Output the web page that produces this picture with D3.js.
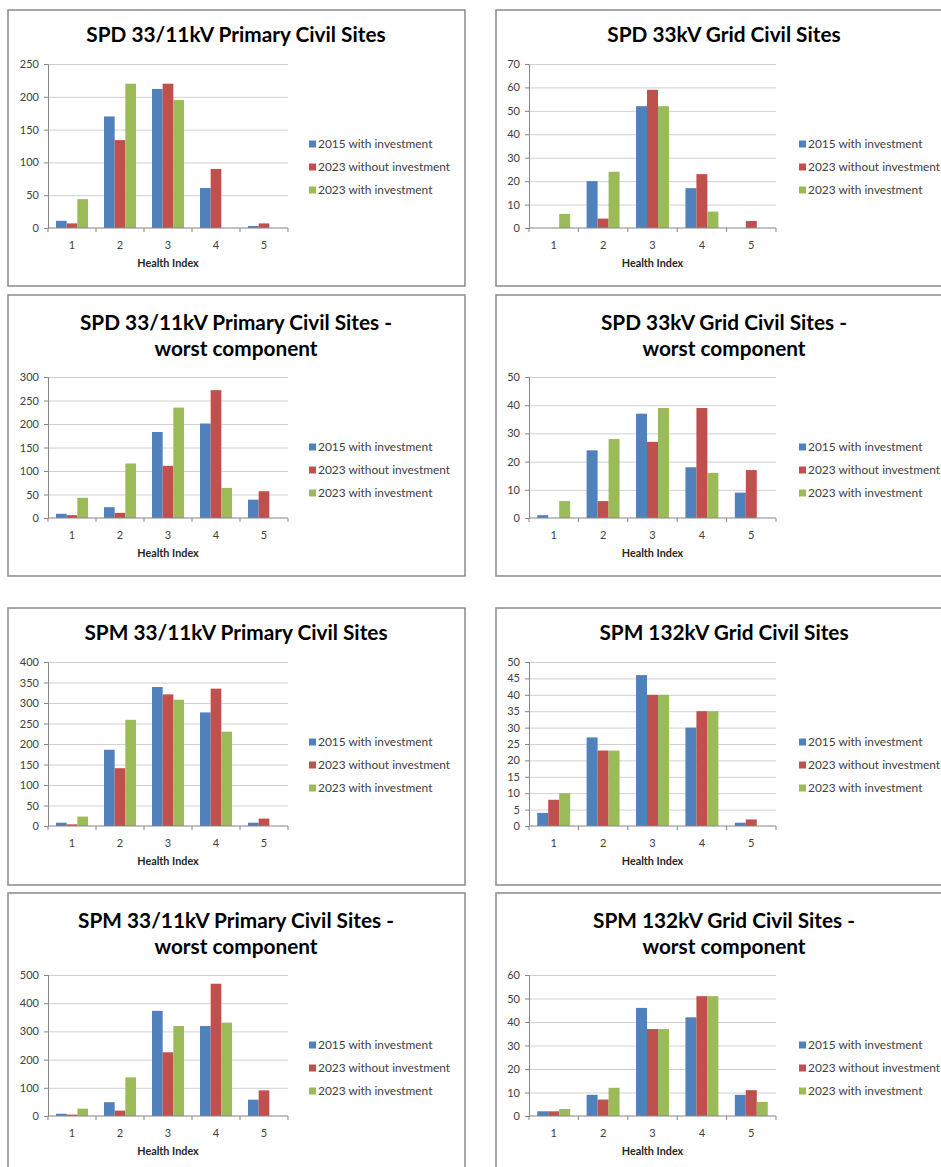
<!DOCTYPE html>
<html>
<head>
<meta charset="utf-8">
<script src="https://cdn.jsdelivr.net/npm/d3@7"></script>
<style>
  html, body { margin: 0; padding: 0; background: #fff; }
  svg { display: block; font-family: Lato, "Open Sans", sans-serif; }
</style>
</head>
<body>
<svg id="chart" width="941" height="1167"></svg>
<script>
// Health Index categories and the three scenarios shown in every chart
const categories = ["1", "2", "3", "4", "5"];
const seriesNames = ["2015 with investment", "2023 without investment", "2023 with investment"];

// SPD 33/11kV Primary Civil Sites
const spdPrimaryTitle = ["SPD 33/11kV Primary Civil Sites"];
const spdPrimaryValues = [[11, 170, 212, 61, 3], [7, 134, 220, 90, 7], [44, 220, 195, 0, 0]];
const spdPrimaryTicks = [0, 50, 100, 150, 200, 250];

// SPD 33kV Grid Civil Sites
const spdGridTitle = ["SPD 33kV Grid Civil Sites"];
const spdGridValues = [[0, 20, 52, 17, 0], [0, 4, 59, 23, 3], [6, 24, 52, 7, 0]];
const spdGridTicks = [0, 10, 20, 30, 40, 50, 60, 70];

// SPD 33/11kV Primary Civil Sites - worst component
const spdPrimaryWorstTitle = ["SPD 33/11kV Primary Civil Sites -", "worst component"];
const spdPrimaryWorstValues = [[9, 23, 183, 201, 39], [6, 11, 111, 272, 57], [43, 116, 235, 64, 0]];
const spdPrimaryWorstTicks = [0, 50, 100, 150, 200, 250, 300];

// SPD 33kV Grid Civil Sites - worst component
const spdGridWorstTitle = ["SPD 33kV Grid Civil Sites -", "worst component"];
const spdGridWorstValues = [[1, 24, 37, 18, 9], [0, 6, 27, 39, 17], [6, 28, 39, 16, 0]];
const spdGridWorstTicks = [0, 10, 20, 30, 40, 50];

// SPM 33/11kV Primary Civil Sites
const spmPrimaryTitle = ["SPM 33/11kV Primary Civil Sites"];
const spmPrimaryValues = [[8, 186, 339, 277, 8], [4, 141, 321, 335, 18], [23, 259, 308, 230, 0]];
const spmPrimaryTicks = [0, 50, 100, 150, 200, 250, 300, 350, 400];

// SPM 132kV Grid Civil Sites
const spmGridTitle = ["SPM 132kV Grid Civil Sites"];
const spmGridValues = [[4, 27, 46, 30, 1], [8, 23, 40, 35, 2], [10, 23, 40, 35, 0]];
const spmGridTicks = [0, 5, 10, 15, 20, 25, 30, 35, 40, 45, 50];

// SPM 33/11kV Primary Civil Sites - worst component
const spmPrimaryWorstTitle = ["SPM 33/11kV Primary Civil Sites -", "worst component"];
const spmPrimaryWorstValues = [[8, 49, 373, 319, 58], [5, 19, 226, 469, 91], [26, 137, 319, 331, 0]];
const spmPrimaryWorstTicks = [0, 100, 200, 300, 400, 500];

// SPM 132kV Grid Civil Sites - worst component
const spmGridWorstTitle = ["SPM 132kV Grid Civil Sites -", "worst component"];
const spmGridWorstValues = [[2, 9, 46, 42, 9], [2, 7, 37, 51, 11], [3, 12, 37, 51, 6]];
const spmGridWorstTicks = [0, 10, 20, 30, 40, 50, 60];

const xLabel = "Health Index";

// ---- styling and layout ----
const colors = ["#4F81BD", "#C0504D", "#9BBB59"];
const colX = [8, 496];
const rowTop = [10, 295, 608, 893];
const rowBottom = [286, 576, 885, 1180];
const panelW = 457;

const panels = [
  { col: 0, row: 0, title: spdPrimaryTitle, values: spdPrimaryValues, ticks: spdPrimaryTicks },
  { col: 1, row: 0, title: spdGridTitle, values: spdGridValues, ticks: spdGridTicks },
  { col: 0, row: 1, title: spdPrimaryWorstTitle, values: spdPrimaryWorstValues, ticks: spdPrimaryWorstTicks },
  { col: 1, row: 1, title: spdGridWorstTitle, values: spdGridWorstValues, ticks: spdGridWorstTicks },
  { col: 0, row: 2, title: spmPrimaryTitle, values: spmPrimaryValues, ticks: spmPrimaryTicks },
  { col: 1, row: 2, title: spmGridTitle, values: spmGridValues, ticks: spmGridTicks },
  { col: 0, row: 3, title: spmPrimaryWorstTitle, values: spmPrimaryWorstValues, ticks: spmPrimaryWorstTicks },
  { col: 1, row: 3, title: spmGridWorstTitle, values: spmGridWorstValues, ticks: spmGridWorstTicks }
];

const svg = d3.select("#chart");
svg.append("rect").attr("width", 941).attr("height", 1167).attr("fill", "#fff");

panels.forEach(p => {
  const g = svg.append("g").attr("transform", `translate(${colX[p.col]},${rowTop[p.row]})`);
  const h = rowBottom[p.row] - rowTop[p.row];
  const twoLine = p.title.length > 1;

  // chart frame
  g.append("rect")
    .attr("x", 0).attr("y", 0).attr("width", panelW).attr("height", h)
    .attr("fill", "#fff").attr("stroke", "#8a8a8a").attr("stroke-width", 1.5);

  // title
  const titleY = twoLine ? [35, 60.5] : [31.5];
  p.title.forEach((t, i) => {
    g.append("text")
      .attr("x", 228).attr("y", titleY[i])
      .attr("text-anchor", "middle")
      .attr("font-size", 20.8).attr("font-weight", "bold").attr("fill", "#000")
      .text(t);
  });

  const plotTop = twoLine ? 82 : 54;
  const plotBottom = twoLine ? 223 : 218;
  const axisX = p.col === 0 ? 40 : 33;
  const plotRight = 280;

  const x = d3.scaleBand().domain(categories).range([axisX, plotRight]).paddingInner(0).paddingOuter(0);
  const xs = d3.scaleBand().domain(seriesNames).range([0, x.bandwidth()]).paddingInner(0).paddingOuter(0.75);
  const y = d3.scaleLinear().domain([0, d3.max(p.ticks)]).range([plotBottom, plotTop]);

  // horizontal gridlines
  g.append("g")
    .attr("transform", `translate(${axisX},0)`)
    .call(d3.axisLeft(y).tickValues(p.ticks.filter(v => v > 0)).tickSize(-(plotRight - axisX)).tickFormat(""))
    .call(a => a.select(".domain").remove())
    .call(a => a.selectAll("line").attr("stroke", "#d0d0d0").attr("stroke-width", 1));

  // bars
  p.values.forEach((vals, si) => {
    g.append("g").selectAll("rect")
      .data(vals.map((v, ci) => ({ c: categories[ci], v })))
      .join("rect")
      .attr("x", d => x(d.c) + xs(seriesNames[si]))
      .attr("y", d => y(d.v))
      .attr("width", xs.bandwidth())
      .attr("height", d => y(0) - y(d.v))
      .attr("fill", colors[si]);
  });

  // value axis
  g.append("g")
    .attr("transform", `translate(${axisX},0)`)
    .call(d3.axisLeft(y).tickValues(p.ticks).tickSize(4).tickPadding(5).tickFormat(d3.format("d")))
    .call(a => a.select(".domain").attr("stroke", "#868686"))
    .call(a => a.selectAll("line").attr("stroke", "#868686"))
    .call(a => a.selectAll("text").attr("font-size", 11).attr("fill", "#404040").attr("font-family", "Lato, sans-serif"));

  // category axis: ticks at band boundaries, labels centred in bands
  const boundaries = categories.map(c => x(c)).concat([plotRight]);
  const xa = g.append("g");
  xa.append("line")
    .attr("x1", axisX).attr("x2", plotRight).attr("y1", y(0)).attr("y2", y(0))
    .attr("stroke", "#868686");
  xa.selectAll("line.tick").data(boundaries).join("line")
    .attr("class", "tick")
    .attr("x1", d => d).attr("x2", d => d)
    .attr("y1", y(0)).attr("y2", y(0) + 4)
    .attr("stroke", "#868686");
  xa.selectAll("text").data(categories).join("text")
    .attr("x", d => x(d) + x.bandwidth() / 2)
    .attr("y", y(0) + 21)
    .attr("text-anchor", "middle")
    .attr("font-size", 11).attr("fill", "#404040")
    .text(d => d);

  g.append("text")
    .attr("x", (axisX + plotRight) / 2).attr("y", y(0) + 39)
    .attr("text-anchor", "middle")
    .attr("font-size", 10.8).attr("font-weight", "bold").attr("fill", "#262626")
    .text(xLabel);

  // legend
  const legX = p.col === 0 ? 301 : 303;
  const legY0 = twoLine ? 152 : 134;
  seriesNames.forEach((name, i) => {
    const ly = legY0 + i * 23;
    g.append("rect")
      .attr("x", legX).attr("y", ly - 3.5).attr("width", 7).attr("height", 7)
      .attr("fill", colors[i]);
    g.append("text")
      .attr("x", legX + 9).attr("y", ly + 4)
      .attr("font-size", 11.9).attr("fill", "#404040")
      .text(name);
  });
});
</script>
</body>
</html>
